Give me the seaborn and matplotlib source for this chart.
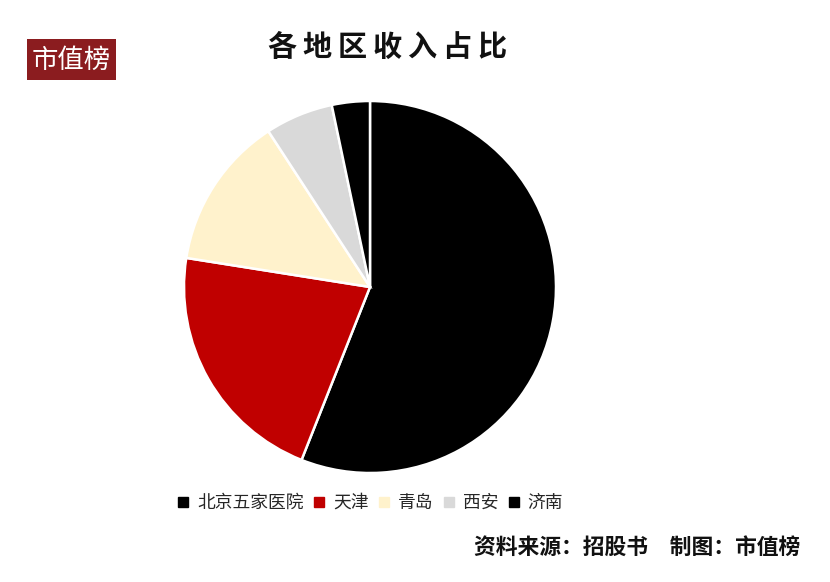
import matplotlib
matplotlib.use("Agg")
import matplotlib.pyplot as plt
import seaborn as sns
from matplotlib.lines import Line2D
from matplotlib.patches import Rectangle

# -----------------------------
# DATA
# -----------------------------
regions = ["北京五家医院", "天津", "青岛", "西安", "济南"]
shares = [56.0, 21.5, 13.3, 5.9, 3.3]
colors = ["#000000", "#C00000", "#FFF2CC", "#D9D9D9", "#000000"]

title = "各地区收入占比"
source = "资料来源：招股书\u3000制图：市值榜"
logo = "市值榜"

# -----------------------------
# STYLE
# -----------------------------
sns.set_theme(style="white")
plt.rcParams["font.family"] = ["Noto Sans CJK SC", "DejaVu Sans"]

W, H = 830, 582
fig = plt.figure(figsize=(W / 100, H / 100), dpi=100)
fig.patch.set_facecolor("white")

# pie axes: centre (370, 287) px, radius ~185 px
cx, cy, r = 370, 287, 186
ax = fig.add_axes([(cx - r) / W, (H - cy - r) / H, 2 * r / W, 2 * r / H])
ax.pie(shares, colors=colors, startangle=90, counterclock=False,
       radius=1.0, wedgeprops=dict(edgecolor="white", linewidth=1.8))
ax.set_xlim(-1, 1)
ax.set_ylim(-1, 1)
ax.set_aspect("auto")
ax.axis("off")

# title (thin spaces for the wide letter spacing)
fig.text(388 / W, 1 - 47 / H, "\u2009".join(title), ha="center", va="center",
         fontsize=21, fontweight="bold", color="#111111")

# logo box
fig.patches.append(Rectangle((27 / W, 1 - 80 / H), 89 / W, 41 / H,
                             transform=fig.transFigure, facecolor="#8B1C1F",
                             edgecolor="none"))
fig.text(71 / W, 1 - 60 / H, logo, ha="center", va="center",
         fontsize=19, color="white")

# legend
handles = [Line2D([0], [0], marker="s", linestyle="none", markersize=7,
                  markerfacecolor=c, markeredgecolor=c) for c in colors]
fig.legend(handles, regions, loc="center left",
           bbox_to_anchor=(169 / W, 1 - 503 / H), ncol=5, frameon=False,
           fontsize=12.8, handlelength=0.6, handletextpad=0.5,
           columnspacing=0.55, borderpad=0)

# footer
fig.text(800 / W, 1 - 547 / H, source, ha="right", va="center",
         fontsize=15.7, fontweight="bold", color="#111111")

fig.savefig("out.png", dpi=100, facecolor="white")
